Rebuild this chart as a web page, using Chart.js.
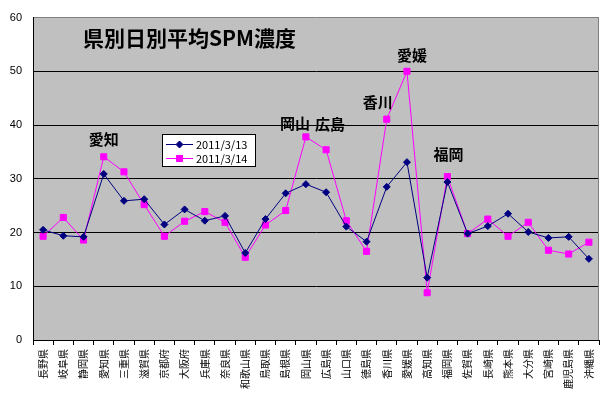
<!DOCTYPE html>
<html>
<head>
<meta charset="utf-8">
<script src="https://cdn.jsdelivr.net/npm/chart.js@4.4.0/dist/chart.umd.min.js"></script>
<style>
  html, body { margin: 0; padding: 0; background: #fff; }
  #wrap { width: 606px; height: 394px; }
</style>
</head>
<body>
<div id="wrap"><canvas id="spmChart" width="606" height="394"></canvas></div>
<script>
// ── data
const prefectures = ['長野県','岐阜県','静岡県','愛知県','三重県','滋賀県','京都府','大阪府','兵庫県','奈良県',
  '和歌山県','鳥取県','島根県','岡山県','広島県','山口県','徳島県','香川県','愛媛県','高知県',
  '福岡県','佐賀県','長崎県','熊本県','大分県','宮崎県','鹿児島県','沖縄県'];
const spm0313 = [20.5,19.4,19.2,30.9,25.9,26.2,21.5,24.3,22.2,23.1,16.2,22.5,27.3,29.0,27.5,21.1,18.3,28.5,33.1,11.6,29.4,19.8,21.2,23.5,20.1,19.0,19.2,15.1];
const spm0314 = [19.3,22.8,18.6,34.1,31.3,25.2,19.3,22.1,23.9,21.9,15.4,21.4,24.1,37.8,35.4,22.2,16.5,41.1,50.0,8.8,30.4,19.8,22.5,19.3,21.9,16.7,16.0,18.2];
const seriesNames = ['2011/3/13', '2011/3/14'];
const yTicks = [0, 10, 20, 30, 40, 50, 60];
const chartTitle = '県別日別平均SPM濃度';
const callouts = ['愛知', '岡山', '広島', '香川', '愛媛', '福岡'];

// callout label nudges (px) relative to the higher point of that prefecture
const calloutNudge = {
  '愛知': [0, -17], '岡山': [-11, -14], '広島': [4, -25],
  '香川': [-9, -17], '愛媛': [5, -16], '福岡': [1, -22]
};

const JP = "'Noto Sans CJK JP', sans-serif";
const NAVY = '#000080';
const MAGENTA = '#FF00FF';

const plotDecor = {
  id: 'plotDecor',
  beforeDraw(chart) {
    const { ctx, chartArea: a } = chart;
    ctx.save();
    ctx.fillStyle = '#C0C0C0';
    ctx.fillRect(a.left, a.top, a.right - a.left, a.bottom - a.top);
    ctx.restore();
  },
  afterDraw(chart) {
    const { ctx, chartArea: a, scales } = chart;
    ctx.save();
    // right border
    ctx.strokeStyle = '#808080';
    ctx.lineWidth = 1;
    ctx.beginPath();
    ctx.moveTo(Math.round(a.right) - 0.5, a.top);
    ctx.lineTo(Math.round(a.right) - 0.5, a.bottom);
    ctx.stroke();

    // title
    ctx.fillStyle = '#000';
    ctx.font = 'bold 21px ' + JP;
    ctx.textAlign = 'left';
    ctx.textBaseline = 'middle';
    ctx.fillText(chartTitle, 83, 38);

    // callouts
    ctx.font = 'bold 15px ' + JP;
    ctx.textAlign = 'center';
    callouts.forEach(name => {
      const idx = prefectures.findIndex(p => p.startsWith(name));
      const v = Math.max(spm0313[idx], spm0314[idx]);
      const [dx, dy] = calloutNudge[name];
      ctx.fillText(name, scales.x.getPixelForValue(idx) + dx, scales.y.getPixelForValue(v) + dy);
    });

    // legend box
    const lx = 162, ly = 134, lw = 93, lh = 32;
    ctx.fillStyle = '#fff';
    ctx.fillRect(lx, ly, lw, lh);
    ctx.strokeStyle = '#000';
    ctx.strokeRect(lx + 0.5, ly + 0.5, lw, lh);
    chart.data.datasets.forEach((ds, i) => {
      const y = ly + 10 + i * 14;
      ctx.strokeStyle = ds.borderColor;
      ctx.beginPath();
      ctx.moveTo(lx + 4, y + 0.5);
      ctx.lineTo(lx + 31, y + 0.5);
      ctx.stroke();
      Chart.helpers.drawPoint(ctx, {
        pointStyle: ds.pointStyle, radius: ds.pointRadius, borderWidth: 1
      }, lx + 17.5, y + 0.5);
      ctx.fillStyle = ds.borderColor;
      ctx.fill();
      ctx.fillStyle = '#000';
      ctx.font = '11px ' + JP;
      ctx.textAlign = 'left';
      ctx.fillText(ds.label, lx + 34, y + 1);
    });
    ctx.restore();
  }
};

new Chart(document.getElementById('spmChart'), {
  type: 'line',
  data: {
    labels: prefectures.map(p => p),
    datasets: [
      {
        label: seriesNames[0],
        data: spm0313,
        borderColor: NAVY,
        backgroundColor: NAVY,
        borderWidth: 1,
        pointStyle: 'rectRot',
        pointRadius: 3.5,
        pointBorderWidth: 1,
        tension: 0
      },
      {
        label: seriesNames[1],
        data: spm0314,
        borderColor: MAGENTA,
        backgroundColor: MAGENTA,
        borderWidth: 1,
        pointStyle: 'rect',
        pointRadius: 4.3,
        pointBorderWidth: 1,
        tension: 0
      }
    ]
  },
  options: {
    responsive: false,
    animation: false,
    layout: { padding: { top: 16, right: 7, left: 0, bottom: 0 } },
    plugins: {
      legend: { display: false },
      tooltip: { enabled: false }
    },
    scales: {
      x: {
        offset: true,
        grid: { offset: true, drawOnChartArea: false, drawTicks: true, tickLength: 5, color: '#000' },
        border: { color: '#000', width: 1 },
        ticks: {
          autoSkip: false,
          minRotation: 90,
          maxRotation: 90,
          padding: 4,
          color: '#000',
          font: { family: JP, size: 10 }
        },
        afterFit(scale) { scale.height = 54; }
      },
      y: {
        min: 0,
        max: 60,
        afterBuildTicks(scale) { scale.ticks = yTicks.map(v => ({ value: v })); },
        grid: {
          drawTicks: false,
          color: ctx => ctx.tick && ctx.tick.value === 60 ? '#808080' : '#000'
        },
        border: { color: '#000', width: 1 },
        ticks: {
          padding: 11,
          color: '#000',
          font: { family: "'Liberation Sans', Arial, sans-serif", size: 11 }
        },
        afterFit(scale) { scale.width = 33; }
      }
    }
  },
  plugins: [plotDecor]
});
</script>
</body>
</html>
